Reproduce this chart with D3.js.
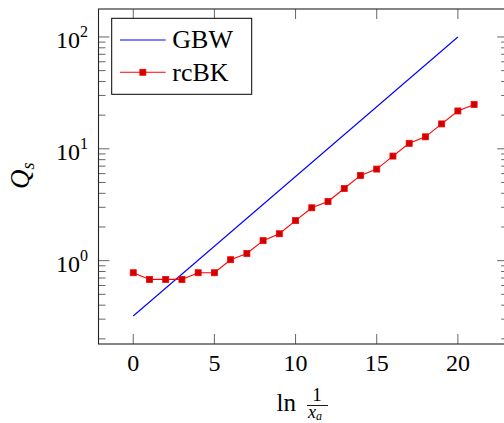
<!DOCTYPE html>
<html>
<head>
<meta charset="utf-8">
<script src="https://cdn.jsdelivr.net/npm/d3@7"></script>
<style>
  html, body { margin: 0; padding: 0; background: #fff; }
  svg { display: block; }
  text { font-family: "Liberation Serif", "Times New Roman", serif; fill: #000; }
</style>
</head>
<body>
<svg id="chart" width="504" height="423"></svg>
<script>
// Saturation scale versus rapidity ln(1/x_a)
const gbwX = [0, 20];
const gbwQs = [0.32, 100];

const rcbkX = [0, 1, 2, 3, 4, 5, 6, 7, 8, 9, 10, 11, 12, 13, 14, 15, 16, 17, 18, 19, 20, 21];
const rcbkQs = [0.78, 0.68, 0.68, 0.68, 0.78, 0.78, 1.02, 1.16, 1.51, 1.74, 2.28, 2.97,
                3.38, 4.42, 5.78, 6.59, 8.61, 11.2, 12.8, 16.7, 21.8, 24.9];

const xTickValues = [0, 5, 10, 15, 20];
const yTickExponents = [0, 1, 2];
const seriesNames = ["GBW", "rcBK"];

const svg = d3.select("#chart");
const plotLeft = 98.5, plotRight = 508.2, plotTop = 9, plotBottom = 344;

const x = d3.scaleLinear().domain([-2.14, 23.1]).range([plotLeft, plotRight]);
const y = d3.scaleLog().domain([Math.pow(10, -0.745), Math.pow(10, 2.25)]).range([plotBottom, plotTop]);

// Minor log ticks (2..9 of each decade) inside the visible range
const yMinor = [];
for (let e = -1; e <= 2; e++) {
  for (let m = 2; m <= 9; m++) {
    const v = m * Math.pow(10, e);
    if (v >= y.domain()[0] && v <= y.domain()[1]) yMinor.push(v);
  }
}
const yMajor = yTickExponents.map(e => Math.pow(10, e));

const tickStroke = "#555", tickW = 0.9;
const ticks = svg.append("g");

// x ticks, bottom and top, pointing inward
xTickValues.forEach(v => {
  ticks.append("line").attr("x1", x(v)).attr("x2", x(v)).attr("y1", plotBottom).attr("y2", plotBottom - 10)
    .attr("stroke", tickStroke).attr("stroke-width", tickW);
  ticks.append("line").attr("x1", x(v)).attr("x2", x(v)).attr("y1", plotTop).attr("y2", plotTop + 10)
    .attr("stroke", tickStroke).attr("stroke-width", tickW);
});
// y ticks, left and right
yMajor.forEach(v => {
  ticks.append("line").attr("x1", plotLeft).attr("x2", plotLeft + 11).attr("y1", y(v)).attr("y2", y(v))
    .attr("stroke", tickStroke).attr("stroke-width", tickW);
  ticks.append("line").attr("x1", plotRight).attr("x2", plotRight - 11).attr("y1", y(v)).attr("y2", y(v))
    .attr("stroke", tickStroke).attr("stroke-width", tickW);
});
yMinor.forEach(v => {
  ticks.append("line").attr("x1", plotLeft).attr("x2", plotLeft + 7).attr("y1", y(v)).attr("y2", y(v))
    .attr("stroke", tickStroke).attr("stroke-width", tickW);
  ticks.append("line").attr("x1", plotRight).attr("x2", plotRight - 7).attr("y1", y(v)).attr("y2", y(v))
    .attr("stroke", tickStroke).attr("stroke-width", tickW);
});

// Frame
svg.append("rect").attr("x", plotLeft).attr("y", plotTop)
  .attr("width", plotRight - plotLeft).attr("height", plotBottom - plotTop)
  .attr("fill", "none").attr("stroke", "#222").attr("stroke-width", 1.1);

// Tick labels
xTickValues.forEach(v => {
  svg.append("text").attr("x", x(v)).attr("y", 371).attr("text-anchor", "middle")
    .attr("font-size", 24).text(v);
});
yTickExponents.forEach(e => {
  const t = svg.append("text").attr("x", 88).attr("y", y(Math.pow(10, e)) + 11)
    .attr("text-anchor", "end").attr("font-size", 24);
  t.append("tspan").text("10");
  t.append("tspan").attr("font-size", 16).attr("dy", -11).text(e);
});

// Axis labels
const xl = svg.append("g");
xl.append("text").attr("x", 276.5).attr("y", 411).attr("font-size", 25).text("ln");
xl.append("text").attr("x", 317).attr("y", 401).attr("text-anchor", "middle").attr("font-size", 19).text("1");
xl.append("line").attr("x1", 307).attr("x2", 328).attr("y1", 405.5).attr("y2", 405.5)
  .attr("stroke", "#000").attr("stroke-width", 0.9);
const xa = xl.append("text").attr("x", 308).attr("y", 418).attr("font-size", 18).attr("font-style", "italic");
xa.append("tspan").text("x");
xa.append("tspan").attr("font-size", 12).attr("dy", 2).text("a");

const yl = svg.append("text").attr("transform", "translate(29,189) rotate(-90)")
  .attr("font-size", 27).attr("font-style", "italic");
yl.append("tspan").text("Q");
yl.append("tspan").attr("font-size", 18).attr("dy", 5).text("s");

// Data
const plot = svg.append("g");
const gbwData = gbwX.map((v, i) => [v, gbwQs[i]]);
const rcbkData = rcbkX.map((v, i) => [v, rcbkQs[i]]);
const line = d3.line().x(d => x(d[0])).y(d => y(d[1]));

plot.append("path").datum(gbwData).attr("d", line)
  .attr("fill", "none").attr("stroke", "#0000ff").attr("stroke-width", 1.1);
plot.append("path").datum(rcbkData).attr("d", line)
  .attr("fill", "none").attr("stroke", "#ff0000").attr("stroke-width", 1.1);
const ms = 6;
plot.selectAll("rect.mk").data(rcbkData).join("rect").attr("class", "mk")
  .attr("x", d => x(d[0]) - ms / 2).attr("y", d => y(d[1]) - ms / 2)
  .attr("width", ms).attr("height", ms)
  .attr("fill", "#cc0000").attr("stroke", "#ff0000").attr("stroke-width", 0.8);

// Legend
const lg = svg.append("g");
lg.append("rect").attr("x", 111.7).attr("y", 18.3).attr("width", 140).attr("height", 76)
  .attr("fill", "#fff").attr("stroke", "#000").attr("stroke-width", 1);
lg.append("line").attr("x1", 120).attr("x2", 165.7).attr("y1", 40).attr("y2", 40)
  .attr("stroke", "#0000ff").attr("stroke-width", 1.1);
lg.append("line").attr("x1", 120).attr("x2", 165.7).attr("y1", 72.3).attr("y2", 72.3)
  .attr("stroke", "#ff0000").attr("stroke-width", 1.1);
lg.append("rect").attr("x", 142.85 - ms / 2).attr("y", 72.3 - ms / 2).attr("width", ms).attr("height", ms)
  .attr("fill", "#cc0000").attr("stroke", "#ff0000").attr("stroke-width", 0.8);
lg.append("text").attr("x", 172.3).attr("y", 48.3).attr("font-size", 26).text(seriesNames[0]);
lg.append("text").attr("x", 172.3).attr("y", 81).attr("font-size", 26).text(seriesNames[1]);
</script>
</body>
</html>
